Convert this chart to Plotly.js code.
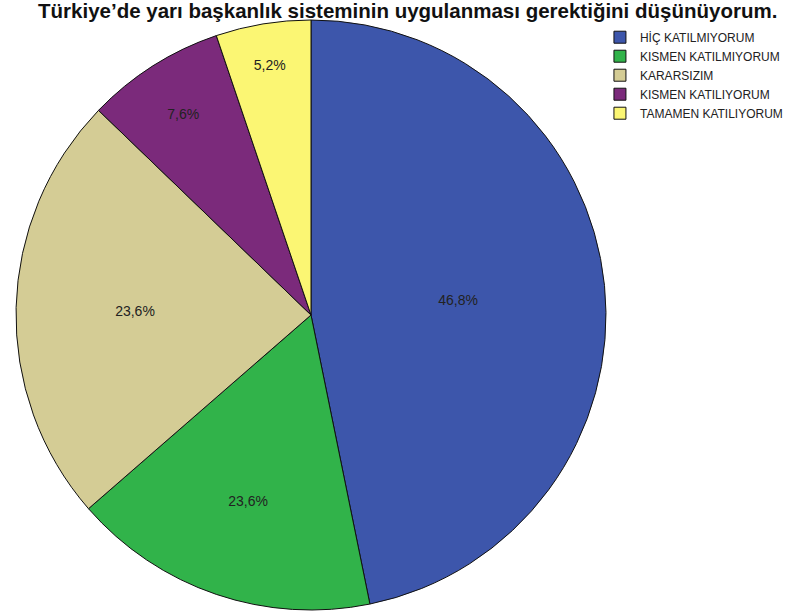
<!DOCTYPE html>
<html>
<head>
<meta charset="utf-8">
<script src="https://cdn.plot.ly/plotly-3.0.1.min.js"></script>
<style>html,body{margin:0;padding:0;background:#fff;}#chart{width:801px;height:614px;}</style>
</head>
<body>
<div id="chart"></div>
<script>
// Categories (legend order)
var categories = ["HİÇ KATILMIYORUM", "KISMEN KATILMIYORUM", "KARARSIZIM", "KISMEN KATILIYORUM", "TAMAMEN KATILIYORUM"];
// Slice sizes as drawn in the picture (percent)
var sliceValues = [46.8, 16.8, 23.6, 7.6, 5.2];
// Labels as printed on the slices
var sliceLabels = ["46,8%", "23,6%", "23,6%", "7,6%", "5,2%"];
var colors = ["#3d56ab", "#31b34a", "#d4cc95", "#7b2a7b", "#fbf673"];

var trace = {
  type: "pie",
  labels: categories,
  values: sliceValues,
  text: sliceLabels,
  textinfo: "text",
  textposition: "inside",
  insidetextorientation: "horizontal",
  insidetextfont: {family: "Liberation Sans, Arial, sans-serif", size: 14, color: "#222"},
  sort: false,
  direction: "clockwise",
  rotation: 0,
  marker: {colors: colors, line: {color: "#111", width: 1}},
  domain: {x: [15/801, 607/801], y: [4/614, 594/614]},
  hoverinfo: "label+text"
};

var layout = {
  width: 801, height: 614,
  margin: {l: 0, r: 0, t: 0, b: 0},
  paper_bgcolor: "#fff",
  title: {text: "<b>Türkiye’de yarı başkanlık sisteminin uygulanması gerektiğini düşünüyorum.</b>",
          font: {family: "Liberation Sans, Arial, sans-serif", size: 20.5, color: "#111"},
          x: 0.509, xanchor: "center", y: 0.983, yanchor: "middle"},
  showlegend: true,
  legend: {x: 0.749, y: 0.963, xanchor: "left", yanchor: "top",
           font: {family: "Liberation Sans, Arial, sans-serif", size: 12, color: "#222"},
           bgcolor: "rgba(0,0,0,0)", itemwidth: 30, traceorder: "normal"}
};

Plotly.newPlot("chart", [trace], layout, {displayModeBar: false});
</script>
</body>
</html>
